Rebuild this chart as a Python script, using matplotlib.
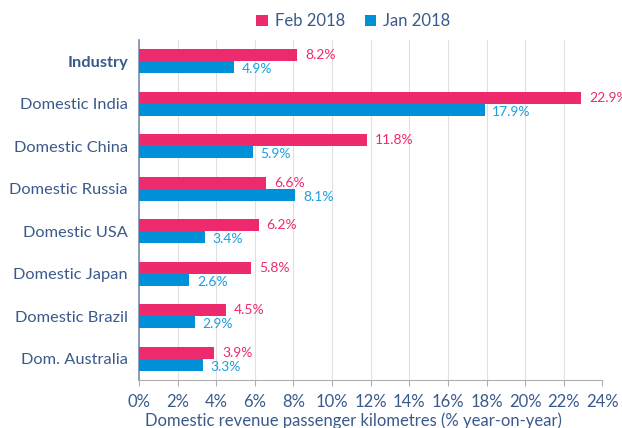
import matplotlib
matplotlib.use("Agg")
import matplotlib.pyplot as plt
import numpy as np

categories = ["Industry", "Domestic India", "Domestic China", "Domestic Russia",
              "Domestic USA", "Domestic Japan", "Domestic Brazil", "Dom. Australia"]
feb_2018 = [8.2, 22.9, 11.8, 6.6, 6.2, 5.8, 4.5, 3.9]
jan_2018 = [4.9, 17.9, 5.9, 8.1, 3.4, 2.6, 2.9, 3.3]
xticks = list(range(0, 25, 2))

plt.rcParams['font.family'] = ['Lato', 'DejaVu Sans']
text_c = "#3A5A8C"
pink = "#EE2A6E"
blue = "#0090D8"
blue_txt = "#1C9FE0"

fig = plt.figure(figsize=(6.22, 4.28), dpi=100)
ax = fig.add_axes([0.2235, 0.112, 0.745, 0.795])

y = np.arange(len(categories))
h = 0.28
ax.barh(y - h/2, feb_2018, height=h, color=pink, label="Feb 2018", zorder=3)
ax.barh(y + h/2, jan_2018, height=h, color=blue, label="Jan 2018", zorder=3)

for yi, v in zip(y, feb_2018):
    ax.text(v + 0.4, yi - h/2, f"{v:.1f}%", color=pink, fontsize=10, va="center", ha="left")
for yi, v in zip(y, jan_2018):
    ax.text(v + 0.4, yi + h/2 + 0.05, f"{v:.1f}%", color=blue_txt, fontsize=10, va="center", ha="left")

ax.set_ylim(len(categories) - 0.5, -0.5)
ax.set_xlim(0, 24)
ax.set_yticks(y)
ax.set_yticklabels(categories, fontsize=11.8, color=text_c)
ax.get_yticklabels()[0].set_fontweight("bold")
ax.set_xticks(xticks)
ax.set_xticklabels([f"{t}%" for t in xticks], fontsize=12, color=text_c)
ax.tick_params(axis="y", length=0, pad=8)
ax.tick_params(axis="x", length=4, color="#B0B0B0", pad=6)
ax.grid(axis="x", color="#E0E0E0", linewidth=0.8, zorder=0)
for s in ["top", "right"]:
    ax.spines[s].set_visible(False)
ax.spines["left"].set_color("#7A8FB0")
ax.spines["left"].set_linewidth(1.2)
ax.spines["bottom"].set_color("#B0B0B0")
ax.set_xlabel("Domestic revenue passenger kilometres (% year-on-year)", fontsize=12,
              color=text_c, labelpad=1)
ax.xaxis.set_label_coords(0.462, -0.095)

leg = fig.legend(loc="center", bbox_to_anchor=(0.568, 0.95), ncol=2, frameon=False,
                 fontsize=12, handlelength=0.7, handleheight=0.7, handletextpad=0.4,
                 columnspacing=1.2)
for t in leg.get_texts():
    t.set_color(text_c)

fig.savefig("out.png", dpi=100)
